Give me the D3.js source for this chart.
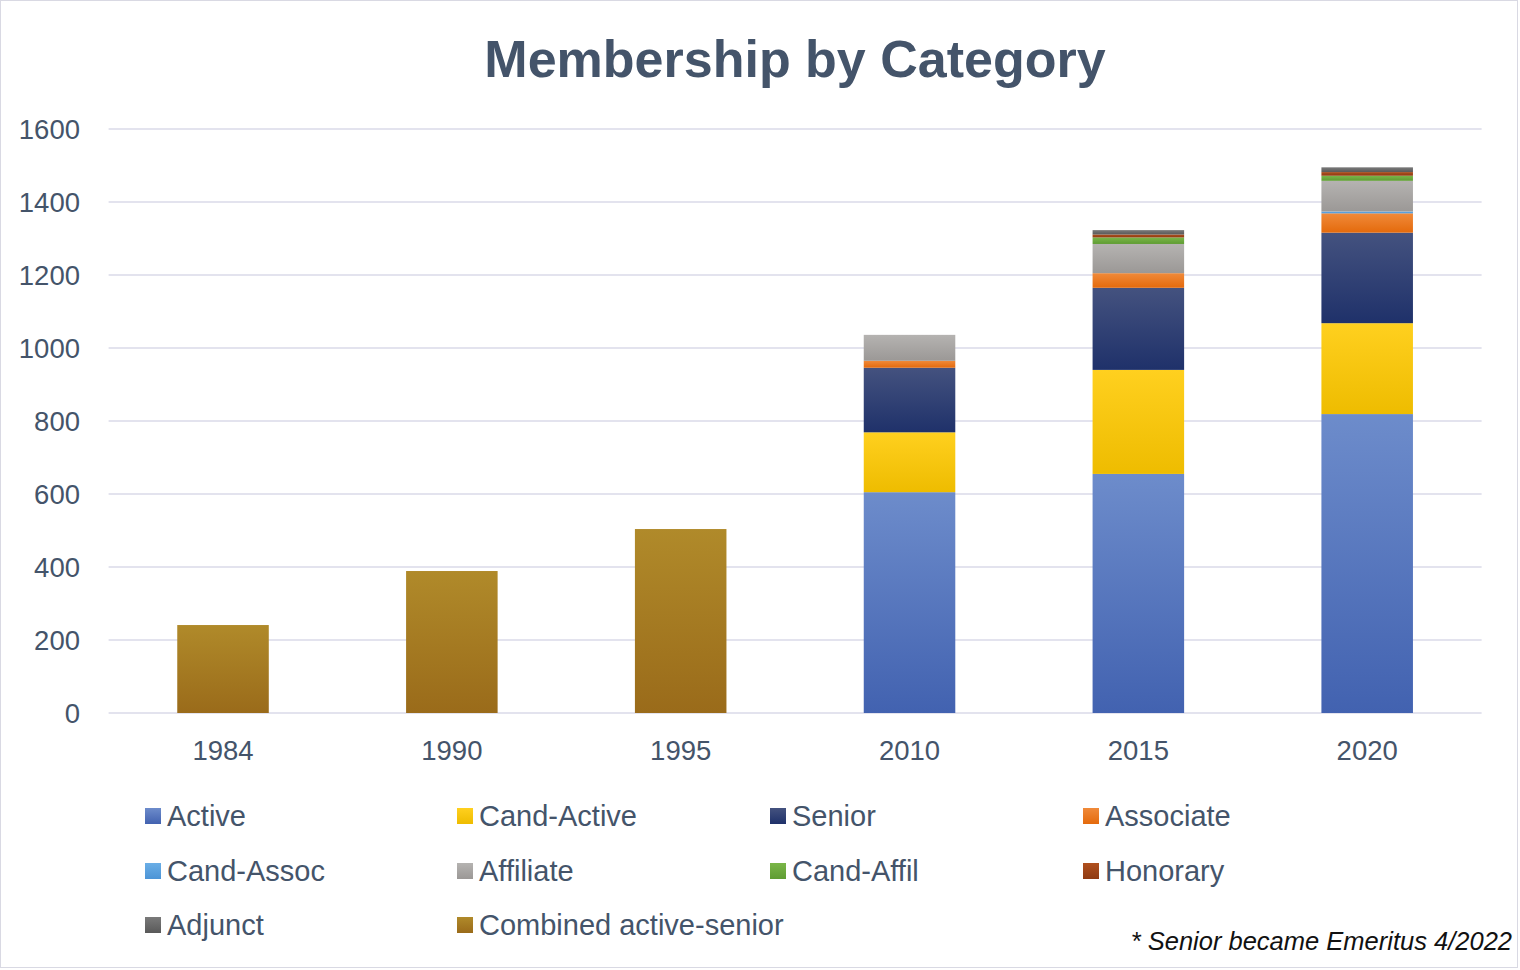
<!DOCTYPE html>
<html><head><meta charset="utf-8">
<script src="https://cdn.jsdelivr.net/npm/d3@7"></script>
<style>body{margin:0;background:#fff;}svg{display:block;font-family:"Liberation Sans",Arial,sans-serif;}</style>
</head><body><svg id="c" width="1520" height="970"></svg>
<script>
const years = ["1984","1990","1995","2010","2015","2020"];
const seriesNames = ["Active","Cand-Active","Senior","Associate","Cand-Assoc","Affiliate","Cand-Affil","Honorary","Adjunct","Combined active-senior"];
const active      = [0,0,0,605,655,819];
const candActive  = [0,0,0,164,285,249];
const senior      = [0,0,0,177,225,248];
const associate   = [0,0,0,19,40,53];
const candAssoc   = [0,0,0,0,0,5];
const affiliate   = [0,0,0,71,80,84];
const candAffil   = [0,0,0,0,18,14];
const honorary    = [0,0,0,0,8,10];
const adjunct     = [0,0,0,0,12,13];
const combined    = [241,389,504,0,0,0];
const yTicks = [0,200,400,600,800,1000,1200,1400,1600];
const colorsTop = ["#6d8ccb","#ffd01f","#44527f","#f08a3a","#6aaee6","#b5b3b1","#7ab648","#b0501e","#7a7a7a","#b08a2a"];
const colorsBot = ["#4262b0","#eebc00","#1f316a","#e46a0c","#4c94d6","#9b9896","#5f9c33","#8f3a12","#595959","#9a6b1a"];

const allVals = [active,candActive,senior,associate,candAssoc,affiliate,candAffil,honorary,adjunct,combined];
const table = years.map((y,i)=>{const o={year:y}; seriesNames.forEach((s,k)=>o[s]=allVals[k][i]); return o;});
const stack = d3.stack().keys(seriesNames)(table);

const svg = d3.select("#c");
const defs = svg.append("defs");
seriesNames.forEach((s,k)=>{
  const g = defs.append("linearGradient").attr("id","g"+k).attr("x1",0).attr("y1",0).attr("x2",0).attr("y2",1);
  g.append("stop").attr("offset","0").attr("stop-color",colorsTop[k]);
  g.append("stop").attr("offset","1").attr("stop-color",colorsBot[k]);
});
svg.append("rect").attr("x",0.5).attr("y",0.5).attr("width",1517).attr("height",967).attr("fill","#fff").attr("stroke","#d9d9e3");

const x = d3.scaleBand().domain(years).range([108.6,1481.6]).paddingInner(0.6).paddingOuter(0.3);
const y = d3.scaleLinear().domain([0,1600]).range([713,129]);

svg.append("text").attr("x",795).attr("y",77).attr("text-anchor","middle").attr("font-size",52).attr("font-weight","bold").attr("fill","#44546a").text("Membership by Category");

// grid
svg.append("g").selectAll("line").data(yTicks).join("line")
  .attr("x1",108.6).attr("x2",1481.6).attr("y1",d=>y(d)).attr("y2",d=>y(d))
  .attr("stroke","#e3e3ee").attr("stroke-width",2);

const yAxis = svg.append("g").attr("transform","translate(80,0)").call(d3.axisLeft(y).tickValues(yTicks).tickSize(0).tickFormat(d3.format("d")));
yAxis.select(".domain").remove();
yAxis.selectAll("text").attr("font-size",27.5).attr("fill","#44546a").attr("font-family","Liberation Sans, Arial, sans-serif").attr("x",0).attr("dy","0.35em");

const xAxis = svg.append("g").attr("transform","translate(0,713)").call(d3.axisBottom(x).tickSize(0));
xAxis.select(".domain").remove();
xAxis.selectAll("text").attr("font-size",27.5).attr("fill","#44546a").attr("font-family","Liberation Sans, Arial, sans-serif").attr("dy","0").attr("y",47);

stack.forEach((layer,k)=>{
  svg.append("g").selectAll("rect").data(layer.filter(d=>d[1]-d[0]>0)).join("rect")
    .attr("x",d=>x(d.data.year)).attr("width",x.bandwidth())
    .attr("y",d=>y(d[1])).attr("height",d=>y(d[0])-y(d[1]))
    .attr("fill","url(#g"+k+")");
});

// legend
const colX = [145,457,770,1083], rowY=[816,871,925];
const lg = svg.append("g");
seriesNames.forEach((s,k)=>{
  const cx = colX[k%4], cy=rowY[Math.floor(k/4)];
  lg.append("rect").attr("x",cx).attr("y",cy-8).attr("width",16).attr("height",16).attr("fill","url(#g"+k+")");
  lg.append("text").attr("x",cx+22).attr("y",cy).attr("dy","0.35em").attr("font-size",29).attr("fill","#44546a").text(s);
});

svg.append("text").attr("x",1512).attr("y",950).attr("text-anchor","end").attr("font-size",25.5).attr("font-style","italic").attr("fill","#111").text("* Senior became Emeritus 4/2022");
</script></body></html>
